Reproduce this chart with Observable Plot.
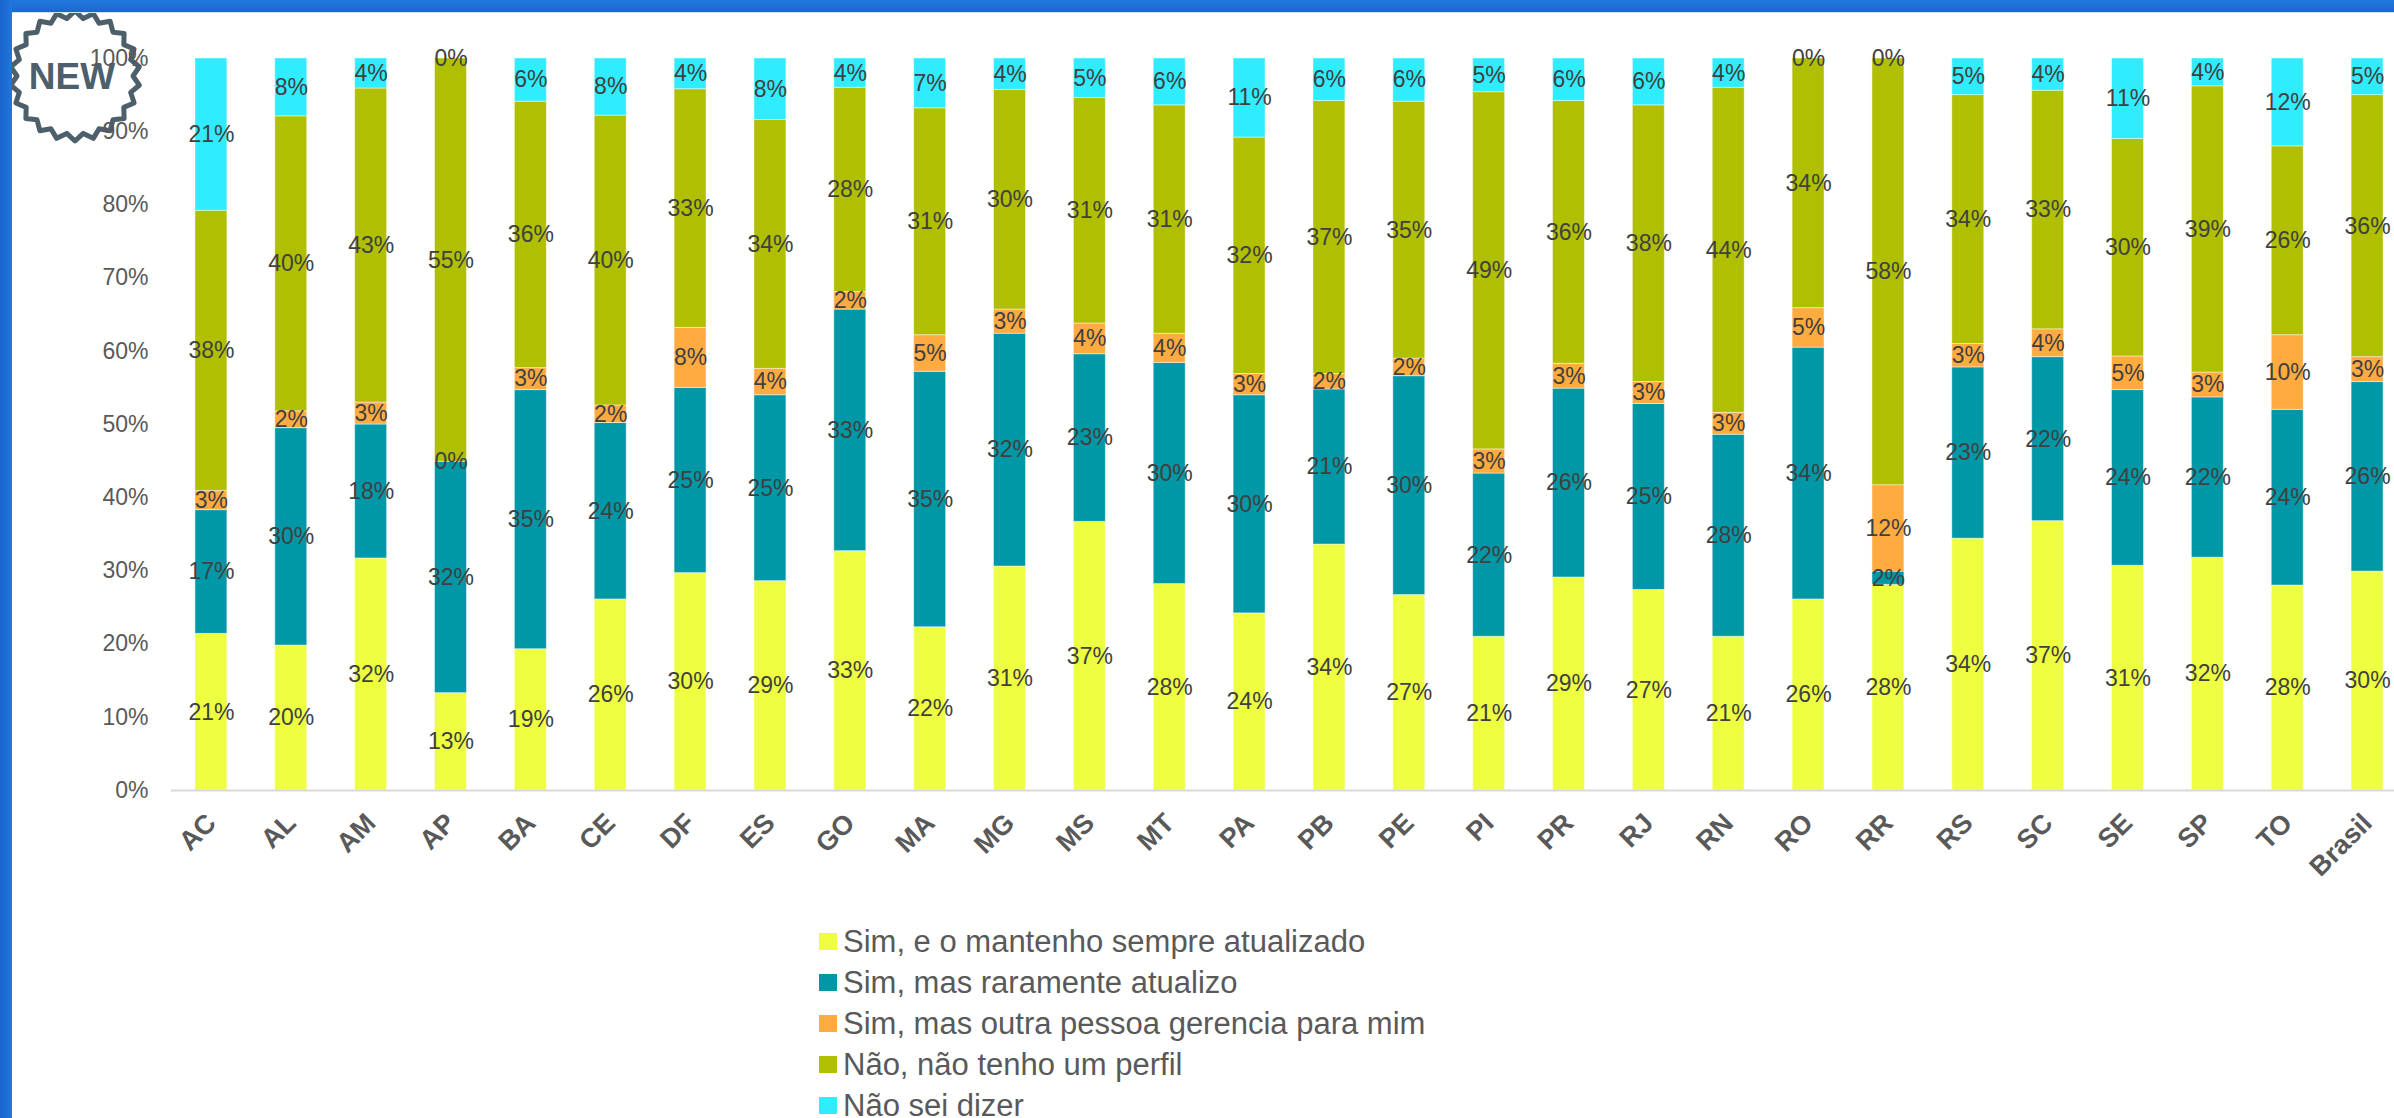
<!DOCTYPE html>
<html>
<head>
<meta charset="utf-8">
<script src="https://cdn.jsdelivr.net/npm/d3@7"></script>
<script src="https://cdn.jsdelivr.net/npm/@observablehq/plot@0.6"></script>
<style>
html,body{margin:0;padding:0;background:#fff;}
#page{position:relative;width:2394px;height:1118px;overflow:hidden;background:#fff;font-family:"Liberation Sans",Arial,sans-serif;}
#topband{position:absolute;left:0;top:0;width:2394px;height:12px;background:linear-gradient(#2378df,#1b68cd);border-bottom:1px solid #cfe0f5;}
#leftband{position:absolute;left:0;top:0;width:12px;height:1118px;background:linear-gradient(90deg,#1a64cc,#2077de);}
#badge{position:absolute;left:0;top:0;}
#chart{position:absolute;left:0;top:0;}
#legend{position:absolute;left:819px;top:921px;}
.row{display:flex;align-items:center;height:41px;font-size:31px;color:#595959;white-space:nowrap;}
.sw{width:18px;height:17px;margin-right:6px;flex:none;}
</style>
</head>
<body>
<div id="page">
  <div id="badge"></div>
  <div id="chart"></div>
  <div id="legend"></div>
  <div id="topband"></div>
  <div id="leftband"></div>
</div>
<script>
const states = ["AC","AL","AM","AP","BA","CE","DF","ES","GO","MA","MG","MS","MT","PA","PB","PE","PI","PR","RJ","RN","RO","RR","RS","SC","SE","SP","TO","Brasil"];
const seriesNames = [
  "Sim, e o mantenho sempre atualizado",
  "Sim, mas raramente atualizo",
  "Sim, mas outra pessoa gerencia para mim",
  "Não, não tenho um perfil",
  "Não sei dizer"
];
const seriesColors = ["#EEFF41", "#0097A7", "#FFAB40", "#B0BF00", "#30ECFF"];

const simSempre    = [21.4,19.8,31.7,13.3,19.3,26.1,29.7,28.6,32.7,22.3,30.6,36.7,28.2,24.2,33.6,26.7,21.0,29.1,27.4,21.0,26.1,28.1,34.4,36.8,30.7,31.8,28.0,29.9];
const simRaramente = [16.9,29.7,18.3,31.6,35.4,24.1,25.3,25.4,33.0,34.9,31.8,22.9,30.2,29.8,21.2,29.9,22.3,25.8,25.4,27.6,34.4,1.8,23.4,22.4,24.0,21.9,24.0,25.9];
const simOutra     = [2.6,2.3,3.0,0,3.0,2.4,8.2,3.6,2.4,5.0,3.3,4.2,4.0,2.9,2.1,2.4,3.3,3.4,3.0,3.0,5.4,11.8,3.2,3.8,4.6,3.4,10.2,3.4];
const naoPerfil    = [38.3,40.3,42.9,55.1,36.4,39.6,32.6,34.0,27.9,31.0,30.0,30.8,31.2,32.3,37.3,35.1,48.8,35.9,37.8,44.4,34.1,58.3,34.0,32.6,29.7,39.1,25.8,35.8];
const naoSei       = [20.8,7.9,4.1,0,5.9,7.8,4.2,8.4,4.0,6.8,4.3,5.4,6.4,10.8,5.8,5.9,4.6,5.8,6.4,4.0,0,0,5.0,4.4,11.0,3.8,12.0,5.0];
const yTicks = [0,10,20,30,40,50,60,70,80,90,100];

const seriesValues = [simSempre, simRaramente, simOutra, naoPerfil, naoSei];
const table = [];
states.forEach((s, i) => seriesValues.forEach((arr, j) => table.push({state: s, series: seriesNames[j], value: arr[i]})));

const chart = Plot.plot({
  width: 2394,
  height: 900,
  marginLeft: 171,
  marginRight: 0,
  marginTop: 58,
  marginBottom: 110,
  style: {background: "transparent", fontFamily: "'Liberation Sans', Arial, sans-serif"},
  x: {domain: states, range: [171, 2407], round: false, paddingInner: 0.6, paddingOuter: 0.3, label: null},
  y: {domain: [0, 100], label: null},
  color: {domain: seriesNames, range: seriesColors},
  marks: [
    Plot.barY(table, Plot.stackY({x: "state", y: "value", fill: "series", order: seriesNames, stroke: "#ffffff", strokeOpacity: 0.45, strokeWidth: 1})),
    Plot.ruleY([0], {stroke: "#d9d9d9", strokeWidth: 2}),
    Plot.text(table, Plot.stackY({x: "state", y: "value", z: "series", order: seriesNames, text: d => Math.round(d.value) + "%", fill: "#404040", fontSize: 23})),
    Plot.axisY({ticks: yTicks, tickFormat: d => d + "%", tickSize: 0, tickPadding: 23, fontSize: 23, fill: "#595959", label: null}),
    Plot.axisX({tickRotate: -45, tickSize: 0, tickPadding: 28, dx: 0, fontSize: 27, fontWeight: "bold", fill: "#595959", label: null})
  ]
});
document.getElementById("chart").appendChild(chart);

// legend
const legend = document.getElementById("legend");
seriesNames.forEach((name, j) => {
  const row = document.createElement("div");
  row.className = "row";
  const sw = document.createElement("span");
  sw.className = "sw";
  sw.style.background = seriesColors[j];
  const t = document.createElement("span");
  t.textContent = name;
  row.appendChild(sw);
  row.appendChild(t);
  legend.appendChild(row);
});

// decorative "NEW" badge
const bsvg = d3.select("#badge").append("svg").attr("width", 160).attr("height", 160);
const N = 22, rOut = 65, rIn = 58, cx = 75, cy = 76;
const pts = d3.range(2 * N).map(i => {
  const a = (i / (2 * N)) * 2 * Math.PI - Math.PI / 2;
  const r = i % 2 === 0 ? rOut : rIn;
  return [cx + r * Math.cos(a), cy + r * Math.sin(a)];
});
bsvg.append("polygon").attr("points", pts.map(p => p.join(",")).join(" "))
  .attr("fill", "none").attr("stroke", "#4d5f6b").attr("stroke-width", 5).attr("stroke-linejoin", "round");
bsvg.append("text").attr("x", cx - 3).attr("y", cy + 13).attr("text-anchor", "middle")
  .attr("font-family", "'Liberation Sans', Arial, sans-serif").attr("font-weight", "bold")
  .attr("font-size", 37).attr("fill", "#4d5f6b").text("NEW");
</script>
</body>
</html>
